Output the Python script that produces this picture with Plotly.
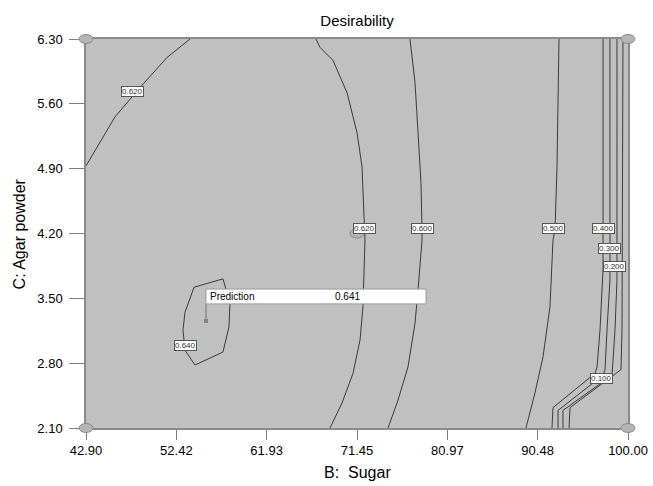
import plotly.graph_objects as go

# ---- axes ----
sugar_ticks = [42.90, 52.42, 61.93, 71.45, 80.97, 90.48, 100.00]
agar_ticks = [2.10, 2.80, 3.50, 4.20, 4.90, 5.60, 6.30]

# ---- contour lines ----
c620a_sugar = [42.90, 45.96, 48.80, 51.43, 53.86]
c620a_agar = [4.93, 5.46, 5.80, 6.10, 6.30]

c620b_sugar = [67.13, 67.55, 68.61, 68.92, 70.40, 71.45, 71.98, 72.19, 72.29, 72.08, 71.77, 71.03, 69.87, 68.61]
c620b_agar = [6.30, 6.21, 6.10, 6.07, 5.72, 5.29, 4.92, 4.49, 4.13, 3.41, 3.05, 2.69, 2.37, 2.10]

c600_sugar = [77.03, 77.56, 77.88, 78.19, 78.30, 78.30, 77.88, 77.56, 76.82, 75.77, 74.72]
c600_agar = [6.30, 5.83, 5.29, 4.75, 4.24, 4.13, 3.59, 3.23, 2.76, 2.40, 2.10]

c500_sugar = [92.73, 92.63, 92.52, 92.31, 92.10, 91.78, 91.05, 90.20, 89.25]
c500_agar = [6.30, 5.64, 4.92, 4.24, 4.13, 3.41, 2.87, 2.48, 2.10]

c400_sugar = [97.37, 97.37, 97.05, 96.74, 96.53, 92.10, 91.99]
c400_agar = [6.30, 3.81, 3.16, 2.76, 2.69, 2.32, 2.10]

c300_sugar = [98.10, 98.10, 97.79, 97.58, 97.37, 92.63, 92.63]
c300_agar = [6.30, 3.70, 3.16, 2.73, 2.67, 2.29, 2.10]

c200_sugar = [98.84, 98.84, 98.63, 98.32, 93.15, 93.15]
c200_agar = [6.30, 3.70, 3.16, 2.67, 2.29, 2.10]

c100_sugar = [99.47, 99.37, 99.26, 93.89, 93.79]
c100_agar = [6.30, 3.16, 2.73, 2.32, 2.10]

c640_sugar = [54.28, 57.33, 58.07, 57.96, 57.33, 54.38, 53.33, 53.12, 53.33, 54.28]
c640_agar = [3.62, 3.71, 3.45, 3.19, 2.92, 2.78, 2.94, 3.16, 3.35, 3.62]

# ---- contour labels ----
label_values = [0.620, 0.620, 0.600, 0.500, 0.400, 0.300, 0.200, 0.100, 0.640]
label_sugar = [47.75, 72.29, 78.30, 92.10, 97.37, 98.00, 98.53, 97.26, 53.38]
label_agar = [5.73, 4.25, 4.25, 4.25, 4.25, 4.04, 3.84, 2.63, 2.99]

# ---- design points ----
design_sugar = [42.90, 100.00, 42.90, 100.00, 71.45]
design_agar = [6.30, 6.30, 2.10, 2.10, 4.20]

# ---- prediction flag ----
pred_sugar = 55.54
pred_agar = 3.255
pred_value = 0.641
flag_sugar_end = 78.72
flag_agar_bottom = 3.44
flag_agar_top = 3.60
flag_value_sugar = 70.45

xmin, xmax = sugar_ticks[0], sugar_ticks[-1]
ymin, ymax = agar_ticks[0], agar_ticks[-1]

fig = go.Figure()

lines = [
    (c620a_sugar, c620a_agar), (c620b_sugar, c620b_agar), (c600_sugar, c600_agar),
    (c500_sugar, c500_agar), (c400_sugar, c400_agar), (c300_sugar, c300_agar),
    (c200_sugar, c200_agar), (c100_sugar, c100_agar), (c640_sugar, c640_agar),
]
for xs, ys in lines:
    fig.add_trace(go.Scatter(x=xs, y=ys, mode="lines",
                             line=dict(color="#3a3a3a", width=1),
                             hoverinfo="skip", showlegend=False))

# prediction flag pole and point
fig.add_trace(go.Scatter(x=[pred_sugar, pred_sugar], y=[pred_agar, flag_agar_bottom],
                         mode="lines", line=dict(color="#808080", width=1.2),
                         hoverinfo="skip", showlegend=False))
fig.add_trace(go.Scatter(x=[pred_sugar], y=[pred_agar], mode="markers",
                         marker=dict(symbol="square", size=4, color="#808080"),
                         hoverinfo="skip", showlegend=False))

shapes = []
shapes.append(dict(type="rect", xref="x", yref="y",
                   x0=pred_sugar, x1=flag_sugar_end, y0=flag_agar_bottom, y1=flag_agar_top,
                   fillcolor="white", line=dict(color="#9a9a9a", width=1), layer="above"))

for sx, ay in zip(design_sugar, design_agar):
    fx = (sx - xmin) / (xmax - xmin)
    fy = (ay - ymin) / (ymax - ymin)
    shapes.append(dict(type="circle", xref="paper", yref="paper",
                       xsizemode="pixel", ysizemode="pixel",
                       xanchor=fx, yanchor=fy, x0=-7, x1=7, y0=-4.5, y1=4.5,
                       fillcolor="#b4b4b4", line=dict(color="#8a8a8a", width=1),
                       layer="above"))

annotations = []
for v, sx, ay in zip(label_values, label_sugar, label_agar):
    annotations.append(dict(x=sx, y=ay, xref="x", yref="y", text=f"{v:.3f}",
                            showarrow=False, bgcolor="white", bordercolor="#555555",
                            borderwidth=1, borderpad=0,
                            font=dict(family="Arial", size=8, color="#333333")))

annotations.append(dict(x=pred_sugar, y=(flag_agar_bottom + flag_agar_top) / 2, xref="x", yref="y",
                        text="Prediction", showarrow=False, xanchor="left", xshift=2,
                        font=dict(family="Arial", size=10, color="black")))
annotations.append(dict(x=flag_value_sugar, y=(flag_agar_bottom + flag_agar_top) / 2, xref="x", yref="y",
                        text=f"{pred_value:.3f}", showarrow=False,
                        font=dict(family="Arial", size=10, color="black")))

# axis titles
annotations.append(dict(x=0.5, y=-0.114, xref="paper", yref="paper", text="B:  Sugar",
                        showarrow=False, yanchor="middle",
                        font=dict(family="Arial", size=16, color="black")))
annotations.append(dict(x=-0.122, y=0.5, xref="paper", yref="paper", text="C: Agar powder",
                        showarrow=False, textangle=-90, xanchor="center",
                        font=dict(family="Arial", size=16, color="black")))

fig.update_layout(
    width=653, height=486,
    margin=dict(l=86, r=25, t=39, b=58, autoexpand=False),
    paper_bgcolor="white",
    plot_bgcolor="#c0c0c0",
    title=dict(text="Desirability", x=(86 + 628) / 2 / 653, xanchor="center",
               y=1 - 21 / 486, yanchor="middle",
               font=dict(family="Arial", size=15, color="black")),
    shapes=shapes,
    annotations=annotations,
    showlegend=False,
)
fig.update_xaxes(range=[xmin, xmax], tickvals=sugar_ticks,
                 ticktext=[f"{t:.2f}" for t in sugar_ticks],
                 ticks="outside", ticklen=10, tickcolor="#808080", tickwidth=1,
                 showline=True, linecolor="#8a8a8a", linewidth=1.5, mirror=True,
                 showgrid=False, zeroline=False, automargin=False,
                 tickfont=dict(family="Arial", size=13, color="black"))
fig.update_yaxes(range=[ymin, ymax], tickvals=agar_ticks,
                 ticktext=[f"{t:.2f}" for t in agar_ticks],
                 ticks="outside", ticklen=15, tickcolor="#808080", tickwidth=1,
                 ticklabelstandoff=4,
                 showline=True, linecolor="#8a8a8a", linewidth=1.5, mirror=True,
                 showgrid=False, zeroline=False, automargin=False,
                 tickfont=dict(family="Arial", size=13, color="black"))

fig.write_html("out.html", config={"displayModeBar": False},
               post_script="document.body.style.margin='0';document.body.style.overflow='hidden';")
